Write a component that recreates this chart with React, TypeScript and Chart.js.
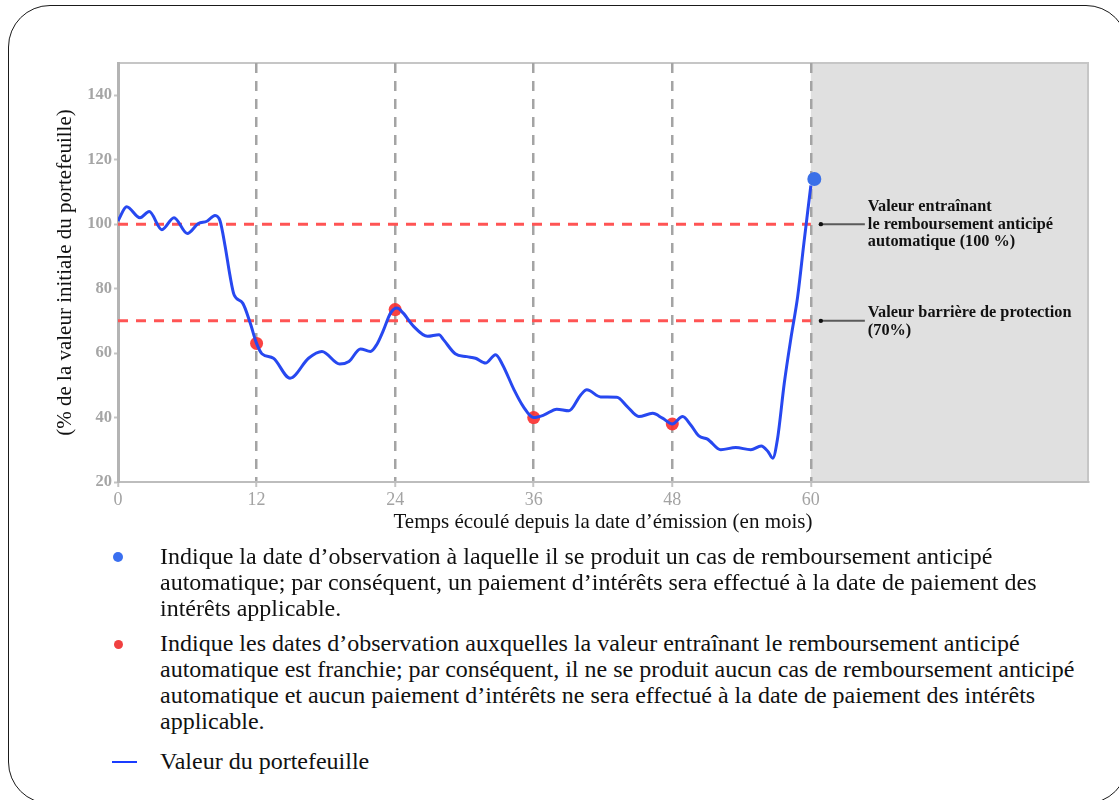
import React, { useEffect, useRef } from "react";
import { Chart, registerables } from "chart.js";

Chart.register(...registerables);

// Portfolio value path (months since issue, % of initial value)
const months = [0, 0.75, 1.9, 2.7, 3.8, 4.85, 6.0, 6.96, 7.7, 8.4, 8.84, 9.28, 9.71, 10.05, 10.8, 11.45, 12, 12.46, 13.46, 14.9, 16.5, 17.66, 19.2, 20, 21, 21.86, 22.4, 23, 23.6, 24.16, 24.7, 25.6, 26.8, 27.8, 28.2, 29.2, 30.2, 30.96, 31.83, 32.7, 33.3, 34.3, 35.1, 36, 36.9, 38.0, 39.05, 40.07, 40.6, 41.8, 43.2, 44.1, 45.1, 46.3, 47.15, 48.0, 48.9, 49.6, 50.3, 51.05, 52.2, 53.5, 54.8, 55.7, 56.3, 56.7, 57.1, 57.7, 58.3, 58.86, 59.4, 60];
const portfolio = [101, 105.4, 102, 103.9, 98.3, 102, 97.1, 100.2, 100.9, 102.7, 101, 93.1, 83.8, 78.1, 75.5, 69.3, 63, 59.8, 58.4, 52.2, 58.4, 60.5, 56.6, 57.4, 61.3, 60.5, 62.6, 67.2, 72.4, 74, 72.4, 68.3, 65.2, 65.7, 64.1, 59.8, 58.9, 58.4, 56.9, 59.5, 56.4, 48.6, 43.4, 40, 40.8, 42.6, 42.1, 47, 48.6, 46.4, 46.3, 43.4, 40.3, 41.3, 39.8, 38, 40.3, 37.7, 34.3, 33.3, 30, 30.7, 30, 31.2, 29.4, 27.4, 33.1, 50.7, 65.2, 77.6, 94.2, 112];

// Observation dates where the autocall level was not reached (red)
const missMonths = [12, 24, 36, 48];
const missValues = [63, 73.5, 40, 38];

// Observation date with automatic early redemption (blue)
const callMonths = [60.3];
const callValues = [114];

// Reference levels
const autocallLevel = 100;
const barrierLevel = 70;
const levelStart = 0;
const levelEnd = 60;

// Axes
const xTicks = [0, 12, 24, 36, 48, 60];
const yTicks = [20, 40, 60, 80, 100, 120, 140];
const xMin = 0;
const xMax = 84;
const yMin = 20;
const yMax = 150;
const shadedFrom = 60;

const autocallLabel = ["Valeur entraînant", "le remboursement anticipé", "automatique (100 %)"];
const barrierLabel = ["Valeur barrière de protection", "(70%)"];

const xTitle = "Temps écoulé depuis la date d’émission (en mois)";
const yTitle = "(% de la valeur initiale du portefeuille)";

const SERIF = '"Liberation Serif", "Times New Roman", serif';

const framePlugin = {
  id: "framePlugin",
  beforeDraw(chart: any) {
    const { ctx, chartArea, scales } = chart;
    const xs = scales.x;
    const x60 = xs.getPixelForValue(shadedFrom);
    ctx.save();
    ctx.fillStyle = "#e0e0e0";
    ctx.fillRect(x60, chartArea.top, chartArea.right - x60, chartArea.bottom - chartArea.top);
    ctx.strokeStyle = "#c6c6c6";
    ctx.lineWidth = 2;
    ctx.strokeRect(chartArea.left, chartArea.top, chartArea.right - chartArea.left, chartArea.bottom - chartArea.top);
    ctx.restore();
  },
  afterDatasetsDraw(chart: any) {
    const { ctx, scales } = chart;
    const xs = scales.x;
    const ys = scales.y;
    const x0 = xs.getPixelForValue(shadedFrom) + 10;
    const notes = [
      { v: autocallLevel, lines: autocallLabel, first: -17 },
      { v: barrierLevel, lines: barrierLabel, first: -8 },
    ];
    ctx.save();
    notes.forEach((n) => {
      const y = ys.getPixelForValue(n.v);
      ctx.strokeStyle = "#5a5a5a";
      ctx.lineWidth = 2;
      ctx.beginPath();
      ctx.moveTo(x0, y);
      ctx.lineTo(x0 + 44, y);
      ctx.stroke();
      ctx.fillStyle = "#111";
      ctx.beginPath();
      ctx.arc(x0, y, 2.2, 0, Math.PI * 2);
      ctx.fill();
      ctx.font = `bold 16.3px ${SERIF}`;
      ctx.textBaseline = "middle";
      ctx.textAlign = "left";
      n.lines.forEach((t, i) => {
        ctx.fillText(t, x0 + 47, y + n.first + i * 17.5);
      });
    });
    ctx.restore();
  },
};

function ChartCanvas() {
  const ref = useRef<HTMLCanvasElement | null>(null);
  useEffect(() => {
    if (!ref.current) return;
    const line = months.map((m, i) => ({ x: m, y: portfolio[i] }));
    const miss = missMonths.map((m, i) => ({ x: m, y: missValues[i] }));
    const call = callMonths.map((m, i) => ({ x: m, y: callValues[i] }));
    const auto = [
      { x: levelStart, y: autocallLevel },
      { x: levelEnd, y: autocallLevel },
    ];
    const barrier = [
      { x: levelStart, y: barrierLevel },
      { x: levelEnd, y: barrierLevel },
    ];
    const chart = new Chart(ref.current, {
      type: "line",
      data: {
        datasets: [
          {
            label: "call",
            data: call,
            showLine: false,
            pointRadius: 7,
            pointBackgroundColor: "#3a70e8",
            pointBorderWidth: 0,
          },
          {
            label: "Valeur du portefeuille",
            data: line,
            borderColor: "#2748f0",
            borderWidth: 3,
            pointRadius: 0,
            cubicInterpolationMode: "monotone",
            fill: false,
          },
          {
            label: "miss",
            data: miss,
            showLine: false,
            pointRadius: 6.5,
            pointBackgroundColor: "rgba(250,45,45,0.9)",
            pointBorderWidth: 0,
          },
          {
            label: "autocall",
            data: auto,
            borderColor: "#ff5454",
            borderWidth: 3,
            borderDash: [10, 8],
            pointRadius: 0,
          },
          {
            label: "barrier",
            data: barrier,
            borderColor: "#ff5454",
            borderWidth: 3,
            borderDash: [10, 8],
            pointRadius: 0,
          },
        ],
      },
      options: {
        animation: false,
        responsive: false,
        maintainAspectRatio: false,
        layout: { padding: { top: 63, right: 31, left: 0, bottom: 0 } },
        plugins: { legend: { display: false }, tooltip: { enabled: false } },
        scales: {
          x: {
            type: "linear",
            min: xMin,
            max: xMax,
            afterBuildTicks: (s: any) => {
              s.ticks = xTicks.map((v) => ({ value: v }));
            },
            afterFit: (s: any) => {
              s.height = 63;
            },
            grid: {
              color: (c: any) => (c.tick && c.tick.value > 0 && c.tick.value <= 60 ? "#a4a4a4" : "rgba(0,0,0,0)"),
              lineWidth: 2.5,
              drawTicks: true,
              tickLength: 5,
              tickColor: "#c4c4c4",
              tickBorderDash: [],
              tickWidth: 2,
            },
            border: { color: "#bdbdbd", width: 2, dash: [10, 8] },
            ticks: {
              color: "#a3a3a3",
              font: { family: SERIF, size: 18 },
              padding: 2,
              maxRotation: 0,
            },
            title: {
              display: true,
              text: xTitle,
              color: "#111",
              font: { family: SERIF, size: 21 },
              padding: { top: 0, bottom: 10 },
            },
          },
          y: {
            type: "linear",
            min: yMin,
            max: yMax,
            afterBuildTicks: (s: any) => {
              s.ticks = yTicks.map((v) => ({ value: v }));
            },
            afterFit: (s: any) => {
              s.width = 118;
            },
            grid: {
              drawOnChartArea: false,
              drawTicks: true,
              tickLength: 4,
              tickColor: "#c4c4c4",
              tickWidth: 2,
            },
            border: { color: "#b4b4b4", width: 3 },
            ticks: {
              color: "#a5a5a5",
              font: { family: SERIF, size: 16.5, weight: "bold" },
              padding: 2,
            },
            title: {
              display: true,
              text: yTitle,
              color: "#111",
              font: { family: SERIF, size: 21 },
              padding: { top: 53, bottom: 0 },
            },
          },
        },
      },
      plugins: [framePlugin],
    } as any);
    return () => chart.destroy();
  }, []);
  return <canvas ref={ref} width={1119} height={545} style={{ position: "absolute", left: 0, top: 0, width: 1119, height: 545 }} />;
}

const legendText: { marker: "blue" | "red" | "line"; lines: string[]; top: number }[] = [
  {
    marker: "blue",
    top: 543,
    lines: [
      "Indique la date d’observation à laquelle il se produit un cas de remboursement anticipé",
      "automatique; par conséquent, un paiement d’intérêts sera effectué à la date de paiement des",
      "intérêts applicable.",
    ],
  },
  {
    marker: "red",
    top: 630,
    lines: [
      "Indique les dates d’observation auxquelles la valeur entraînant le remboursement anticipé",
      "automatique est franchie; par conséquent, il ne se produit aucun cas de remboursement anticipé",
      "automatique et aucun paiement d’intérêts ne sera effectué à la date de paiement des intérêts",
      "applicable.",
    ],
  },
  { marker: "line", top: 748, lines: ["Valeur du portefeuille"] },
];

export default function App() {
  return (
    <div style={{ position: "absolute", left: 0, top: 0, width: 1119, height: 800, overflow: "hidden", background: "#fff" }}>
      <div
        style={{
          position: "absolute",
          left: 8,
          top: 5,
          width: 1120,
          height: 799,
          border: "1.5px solid #1a1a1a",
          borderRadius: 42,
          boxSizing: "border-box",
        }}
      />
      <ChartCanvas />
      {legendText.map((item, k) => (
        <div key={k} style={{ position: "absolute", left: 0, top: item.top, width: 1119 }}>
          {item.marker === "blue" && (
            <div style={{ position: "absolute", left: 113, top: 9, width: 10, height: 10, borderRadius: 5, background: "#3a6ff0" }} />
          )}
          {item.marker === "red" && (
            <div style={{ position: "absolute", left: 113.5, top: 9.5, width: 9, height: 9, borderRadius: 5, background: "#f04040" }} />
          )}
          {item.marker === "line" && (
            <div style={{ position: "absolute", left: 112, top: 13, width: 25, height: 2, background: "#1a3cff" }} />
          )}
          <div
            style={{
              position: "absolute",
              left: 160,
              top: 0,
              fontFamily: SERIF,
              fontSize: 24,
              lineHeight: "26px",
              color: "#111",
              whiteSpace: "nowrap",
            }}
          >
            {item.lines.map((l, i) => (
              <div key={i}>{l}</div>
            ))}
          </div>
        </div>
      ))}
    </div>
  );
}
